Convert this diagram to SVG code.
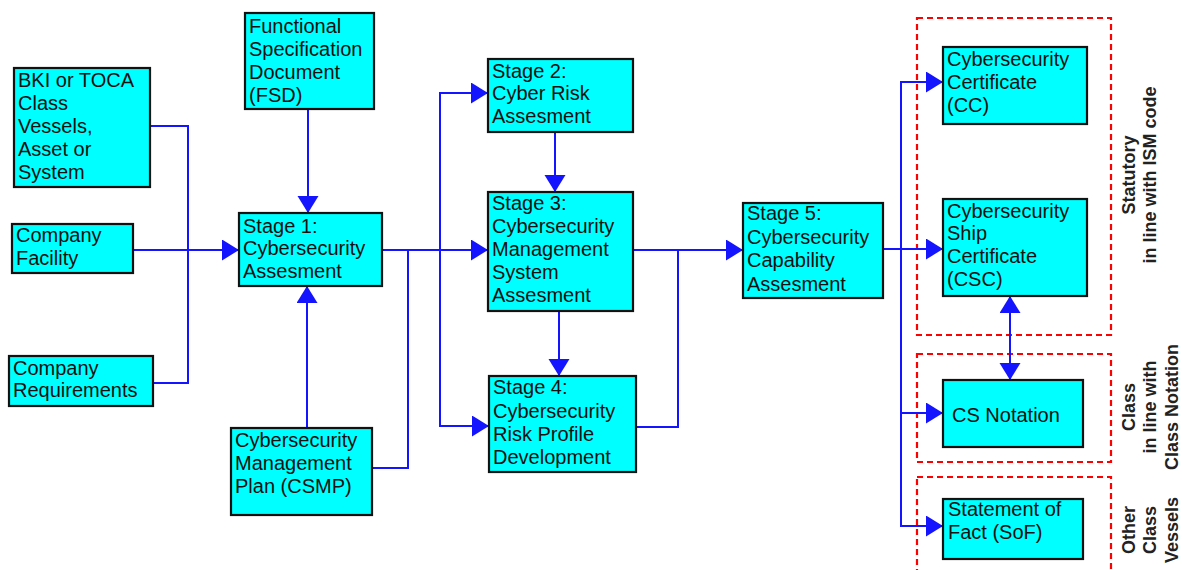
<svg xmlns="http://www.w3.org/2000/svg" width="1182" height="570" viewBox="0 0 1182 570">
<style>
.box{fill:#00ffff;stroke:#111;stroke-width:2.2}
.t{font-family:"Liberation Sans",Arial,sans-serif;font-size:20px;fill:#111}
.lab{font-family:"Liberation Sans",Arial,sans-serif;font-size:18px;font-weight:bold;fill:#222;text-anchor:middle}
.c{fill:none;stroke:#1414ff;stroke-width:2}
.zone{fill:none;stroke:#ff0000;stroke-width:2.2;stroke-dasharray:6 4}
</style>
<defs>
<marker id="ah" markerUnits="userSpaceOnUse" markerWidth="18" markerHeight="22" refX="17" refY="10.5" orient="auto-start-reverse">
<path d="M0,0 L17,10.5 L0,21 z" fill="#1414ff"/>
</marker>
</defs>
<rect width="1182" height="570" fill="#fff"/>
<g id="zones">
<rect class="zone" x="917" y="18" width="194" height="317"/>
<rect class="zone" x="917" y="354" width="194" height="108"/>
<rect class="zone" x="917" y="477" width="194" height="110"/>
<text class="lab" transform="translate(1135,175) rotate(-90)"><tspan x="0" y="0">Statutory</tspan><tspan x="0" y="21">in line with ISM code</tspan></text>
<text class="lab" transform="translate(1135,407) rotate(-90)"><tspan x="0" y="0">Class</tspan><tspan x="0" y="21">in line with</tspan><tspan x="0" y="43">Class Notation</tspan></text>
<text class="lab" transform="translate(1135,530) rotate(-90)"><tspan x="0" y="0">Other</tspan><tspan x="0" y="21">Class</tspan><tspan x="0" y="43">Vessels</tspan></text>
</g>
<g id="connectors">
<path class="c" d="M150,126 L188,126 L188,383 L153,383"/>
<path class="c" d="M133,250 L239,250" marker-end="url(#ah)"/>
<path class="c" d="M308,109 L308,213" marker-end="url(#ah)"/>
<path class="c" d="M307,428 L307,286" marker-end="url(#ah)"/>
<path class="c" d="M382,250 L488,250" marker-end="url(#ah)"/>
<path class="c" d="M372,468 L408,468 L408,250"/>
<path class="c" d="M440,250 L440,93 L488,93" marker-end="url(#ah)"/>
<path class="c" d="M440,250 L440,426 L489,426" marker-end="url(#ah)"/>
<path class="c" d="M555,132 L555,192" marker-end="url(#ah)"/>
<path class="c" d="M559,311 L559,376" marker-end="url(#ah)"/>
<path class="c" d="M633,250 L743,250" marker-end="url(#ah)"/>
<path class="c" d="M636,427 L678,427 L678,250"/>
<path class="c" d="M883,249 L943,249" marker-end="url(#ah)"/>
<path class="c" d="M901,249 L901,82 L943,82" marker-end="url(#ah)"/>
<path class="c" d="M901,249 L901,413 L943,413" marker-end="url(#ah)"/>
<path class="c" d="M901,413 L901,526 L943,526" marker-end="url(#ah)"/>
<path class="c" d="M1010,296 L1010,380" marker-start="url(#ah)" marker-end="url(#ah)"/>
</g>
<g id="bki"><rect class="box" x="14" y="68" width="136" height="119"/>
<text class="t"><tspan x="18" y="87">BKI or TOCA</tspan><tspan x="18" y="110">Class</tspan><tspan x="18" y="133">Vessels,</tspan><tspan x="18" y="156">Asset or</tspan><tspan x="18" y="179">System</tspan></text></g>
<g id="facility"><rect class="box" x="12" y="224" width="121" height="49"/>
<text class="t"><tspan x="16" y="242">Company</tspan><tspan x="16" y="265">Facility</tspan></text></g>
<g id="requirements"><rect class="box" x="9" y="356" width="144" height="50"/>
<text class="t"><tspan x="13" y="375">Company</tspan><tspan x="13" y="397">Requirements</tspan></text></g>
<g id="fsd"><rect class="box" x="245" y="13" width="129" height="96"/>
<text class="t"><tspan x="249" y="33">Functional</tspan><tspan x="249" y="56">Specification</tspan><tspan x="249" y="79">Document</tspan><tspan x="249" y="102">(FSD)</tspan></text></g>
<g id="stage1"><rect class="box" x="239" y="213" width="143" height="73"/>
<text class="t"><tspan x="243" y="233">Stage 1:</tspan><tspan x="243" y="255">Cybersecurity</tspan><tspan x="243" y="278">Assesment</tspan></text></g>
<g id="csmp"><rect class="box" x="231" y="428" width="141" height="87"/>
<text class="t"><tspan x="235" y="447">Cybersecurity</tspan><tspan x="235" y="470">Management</tspan><tspan x="235" y="493">Plan (CSMP)</tspan></text></g>
<g id="stage2"><rect class="box" x="488" y="59" width="145" height="73"/>
<text class="t"><tspan x="492" y="78">Stage 2:</tspan><tspan x="492" y="100">Cyber Risk</tspan><tspan x="492" y="123">Assesment</tspan></text></g>
<g id="stage3"><rect class="box" x="488" y="192" width="145" height="119"/>
<text class="t"><tspan x="492" y="210">Stage 3:</tspan><tspan x="492" y="233">Cybersecurity</tspan><tspan x="492" y="256">Management</tspan><tspan x="492" y="279">System</tspan><tspan x="492" y="302">Assesment</tspan></text></g>
<g id="stage4"><rect class="box" x="489" y="376" width="147" height="96"/>
<text class="t"><tspan x="493" y="394">Stage 4:</tspan><tspan x="493" y="418">Cybersecurity</tspan><tspan x="493" y="441">Risk Profile</tspan><tspan x="493" y="464">Development</tspan></text></g>
<g id="stage5"><rect class="box" x="743" y="203" width="140" height="95"/>
<text class="t"><tspan x="747" y="220">Stage 5:</tspan><tspan x="747" y="244">Cybersecurity</tspan><tspan x="747" y="267">Capability</tspan><tspan x="747" y="291">Assesment</tspan></text></g>
<g id="cc"><rect class="box" x="943" y="47" width="144" height="77"/>
<text class="t"><tspan x="947" y="66">Cybersecurity</tspan><tspan x="947" y="89">Certificate</tspan><tspan x="947" y="112">(CC)</tspan></text></g>
<g id="csc"><rect class="box" x="943" y="199" width="144" height="97"/>
<text class="t"><tspan x="947" y="218">Cybersecurity</tspan><tspan x="947" y="240">Ship</tspan><tspan x="947" y="263">Certificate</tspan><tspan x="947" y="286">(CSC)</tspan></text></g>
<g id="csnotation"><rect class="box" x="943" y="380" width="140" height="67"/>
<text class="t" x="952" y="422">CS Notation</text></g>
<g id="sof"><rect class="box" x="943" y="499" width="140" height="60"/>
<text class="t"><tspan x="948" y="516">Statement of</tspan><tspan x="948" y="539">Fact (SoF)</tspan></text></g>
</svg>
